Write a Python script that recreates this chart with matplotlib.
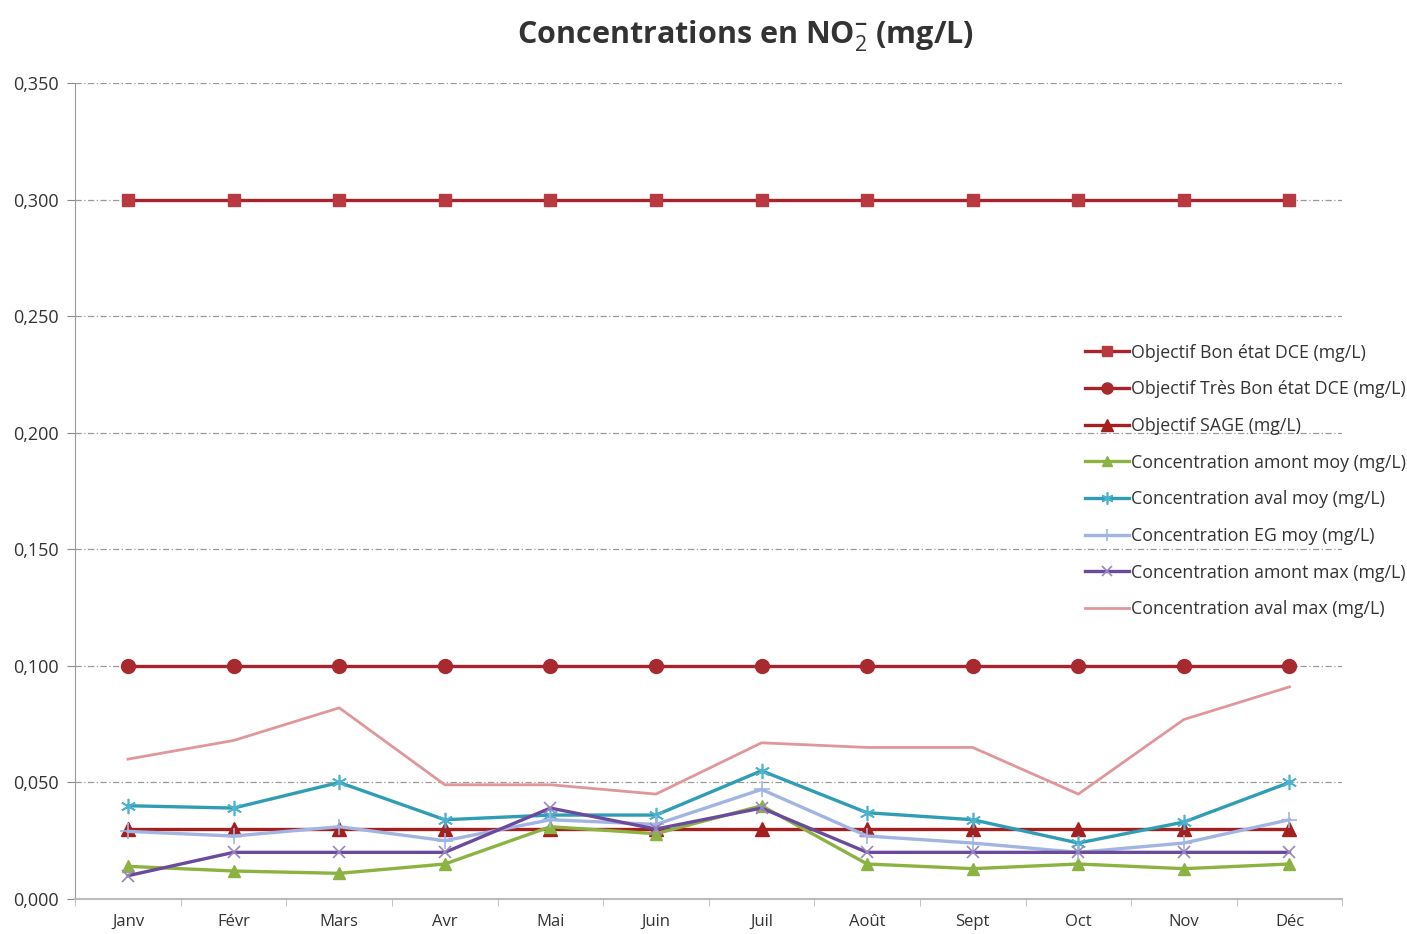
import matplotlib
matplotlib.use("Agg")
import matplotlib.pyplot as plt
from matplotlib.ticker import FuncFormatter, FixedLocator

plt.rcParams['font.family'] = ['Open Sans', 'DejaVu Sans']
plt.rcParams['mathtext.fontset'] = 'custom'
plt.rcParams['mathtext.rm'] = 'Open Sans'
plt.rcParams['mathtext.bf'] = 'Open Sans:bold'

months = ['Janv', 'Févr', 'Mars', 'Avr', 'Mai', 'Juin', 'Juil', 'Août', 'Sept', 'Oct', 'Nov', 'Déc']

bon_etat = [0.300] * 12
tres_bon_etat = [0.100] * 12
sage = [0.030] * 12
amont_moy = [0.014, 0.012, 0.011, 0.015, 0.031, 0.028, 0.040, 0.015, 0.013, 0.015, 0.013, 0.015]
aval_moy = [0.040, 0.039, 0.050, 0.034, 0.036, 0.036, 0.055, 0.037, 0.034, 0.024, 0.033, 0.050]
eg_moy = [0.029, 0.027, 0.031, 0.025, 0.034, 0.032, 0.047, 0.027, 0.024, 0.020, 0.024, 0.034]
amont_max = [0.010, 0.020, 0.020, 0.020, 0.039, 0.030, 0.039, 0.020, 0.020, 0.020, 0.020, 0.020]
aval_max = [0.060, 0.068, 0.082, 0.049, 0.049, 0.045, 0.067, 0.065, 0.065, 0.045, 0.077, 0.091]

labels = ['Objectif Bon état DCE (mg/L)', 'Objectif Très Bon état DCE (mg/L)', 'Objectif SAGE (mg/L)',
          'Concentration amont moy (mg/L)', 'Concentration aval moy (mg/L)', 'Concentration EG moy (mg/L)',
          'Concentration amont max (mg/L)', 'Concentration aval max (mg/L)']

fig = plt.figure(figsize=(14.07, 9.34), dpi=100)
ax = fig.add_axes([0.0535, 0.0375, 0.9005, 0.8735])

x = range(len(months))
ax.plot(x, bon_etat, color='#A8232B', lw=2.4, marker='s', ms=9, mfc='#B8393F', mec='#B8393F', label=labels[0])
ax.plot(x, tres_bon_etat, color='#A8232B', lw=2.4, marker='o', ms=10, mfc='#A82A2E', mec='#A82A2E', label=labels[1])
ax.plot(x, sage, color='#A3201F', lw=2.4, marker='^', ms=10, mfc='#A3201F', mec='#A3201F', label=labels[2])
ax.plot(x, amont_moy, color='#8CB341', lw=2.4, marker='^', ms=9, mfc='#8CB341', mec='#8CB341', label=labels[3])
ax.plot(x, aval_moy, color='#2F9DB4', lw=2.4, marker=(6, 2, 0), ms=11, mec='#4BB3D0', mew=1.2, label=labels[4])
ax.plot(x, eg_moy, color='#A2B4E2', lw=2.4, marker='+', ms=11, mec='#A2B4E2', mew=1.2, label=labels[5])
ax.plot(x, amont_max, color='#6B4A9E', lw=2.4, marker='x', ms=9, mec='#9A86C0', mew=1.2, label=labels[6])
ax.plot(x, aval_max, color='#E0979B', lw=2.0, label=labels[7])

ax.set_xlim(-0.5, len(months) - 0.5)
ax.set_ylim(0, 0.35)
ax.set_yticks([0, 0.05, 0.10, 0.15, 0.20, 0.25, 0.30, 0.35])
ax.yaxis.set_major_formatter(FuncFormatter(lambda v, p: f'{v:.3f}'.replace('.', ',')))
ax.set_xticks(list(x))
ax.set_xticklabels(months)
ax.xaxis.set_minor_locator(FixedLocator([i + 0.5 for i in range(-1, len(months))]))
ax.tick_params(axis='x', which='major', length=0, labelsize=12, colors='#333333', pad=11)
ax.tick_params(axis='x', which='minor', length=5, color='#BBBBBB')
ax.tick_params(axis='y', length=6, color='#888888', labelsize=13, labelcolor='#333333', pad=6)

ax.grid(axis='y', color='#999999', lw=0.9, linestyle=(0, (5, 2, 1, 2)))
ax.set_axisbelow(True)
for s in ['top', 'right']:
    ax.spines[s].set_visible(False)
ax.spines['left'].set_color('#999999')
ax.spines['bottom'].set_color('#BBBBBB')
ax.spines['bottom'].set_linewidth(1.5)

fig.suptitle(r'Concentrations en NO$_2^{\mathbf{-}}$ (mg/L)', x=0.53, y=0.98, fontsize=22,
             fontweight='bold', color='#333333')

fig.legend(loc='upper left', bbox_to_anchor=(0.771, 0.632), frameon=False, fontsize=12.8,
           handlelength=2.5, handletextpad=0.1, labelspacing=1.05, borderpad=0, borderaxespad=0,
           markerscale=0.8, labelcolor='#333333')

fig.savefig('out.png', dpi=100, facecolor='white')
